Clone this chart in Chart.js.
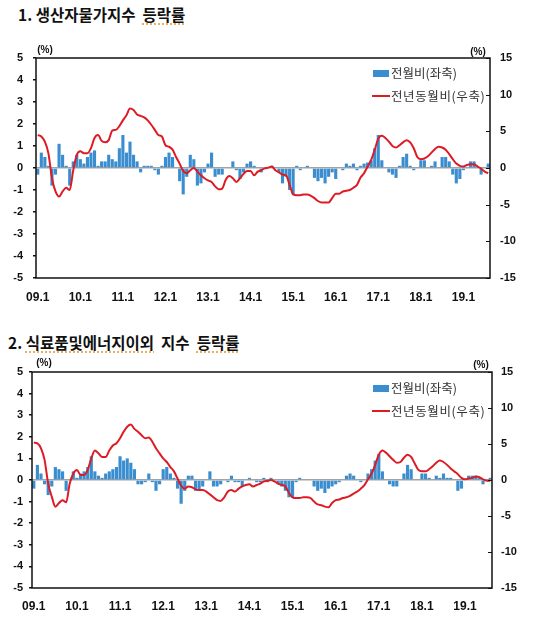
<!DOCTYPE html>
<html>
<head>
<meta charset="utf-8">
<script src="https://cdn.jsdelivr.net/npm/chart.js@4/dist/chart.umd.min.js"></script>
<style>
  html, body { margin: 0; padding: 0; background: #fff; }
  body { width: 535px; height: 618px; position: relative; overflow: hidden; }
  canvas { position: absolute; left: 0; }
  .title { position: absolute; font-family: "Noto Sans CJK KR", sans-serif; font-weight: 700;
           font-size: 15.5px; line-height: 18px; color: #111; white-space: pre; }
  .squig { text-decoration: underline dotted #e09a30; text-underline-offset: 3px; }
  .unit { position: absolute; font-family: "Liberation Sans", Arial, sans-serif; font-weight: 700;
          font-size: 10px; line-height: 12px; color: #111; transform: translate(-50%, -50%); }
  .leg { position: absolute; font-family: "Noto Sans CJK KR", sans-serif; font-size: 12.5px;
         line-height: 16px; color: #333; white-space: nowrap; }
  .sw { position: absolute; }
</style>
</head>
<body>
<div class="title" style="left:18px; top:5px;">1. 생산자물가지수  <span class="squig">등락률</span></div>
<div class="title" style="left:8px; top:333px;">2. <span class="squig">식료품및에너지이외</span>  지수  <span class="squig">등락률</span></div>

<canvas id="ppiChart" width="535" height="280" style="top:30px;"></canvas>
<canvas id="coreChart" width="535" height="278" style="top:340px;"></canvas>

<div class="unit" style="left:45px; top:50px;">(%)</div>
<div class="unit" style="left:478px; top:52px;">(%)</div>
<div class="unit" style="left:44px; top:363px;">(%)</div>
<div class="unit" style="left:481px; top:365px;">(%)</div>

<div id="leg1"></div>
<div id="leg2"></div>

<script>
// months 2009.1 - 2019.8
const years = ["09", "10", "11", "12", "13", "14", "15", "16", "17", "18", "19"];
const lastMonth = 8;
const tickLabels = ["09.1", "10.1", "11.1", "12.1", "13.1", "14.1", "15.1", "16.1", "17.1", "18.1", "19.1"];

const months = [];
years.forEach((y, yi) => {
    const n = yi === years.length - 1 ? lastMonth : 12;
    for (let m = 1; m <= n; m++) months.push(y + "." + m);
});

// 1. 생산자물가지수
const ppiMoM = [
    -0.3, 0.7, 0.5, 0.1, -0.8, -0.3, 1.1, 0.6, 0.1, -0.8, 0.3, 0.6,
    0.4, 0.2, 0.5, 0.7, 0.8, 0.1, 0.3, 0.3, 0.6, 0.4, 0.3, 0.9,
    1.5, 0.7, 1.2, 0.6, 0.3, -0.2, 0.1, 0.1, 0.1, -0.1, -0.3, 0.1,
    0.5, 0.7, 0.5, 0.0, -0.6, -1.2, -0.4, 0.6, 0.4, -0.8, -0.7, -0.2,
    0.2, 0.7, -0.4, -0.3, -0.3, 0.0, 0.0, 0.3, -0.1, -0.5, -0.2, 0.2,
    0.3, 0.1, 0.0, -0.2, 0.0, 0.0, 0.1, 0.0, -0.2, -0.7, -0.4, -1.0,
    -1.2, 0.1, -0.1, 0.0, 0.1, 0.0, -0.45, -0.6, -0.45, -0.7, -0.4, -0.2,
    -0.5, 0.0, -0.1, 0.2, 0.1, 0.2, -0.1, 0.1, 0.2, 0.25, 0.35, 0.9,
    1.5, 0.35, 0.0, -0.2, -0.3, -0.45, 0.1, 0.5, 0.65, 0.1, -0.1, 0.0,
    0.35, 0.35, 0.0, 0.1, 0.3, 0.0, 0.5, 0.5, 0.3, -0.3, -0.7, -0.5,
    -0.1, 0.0, 0.3, 0.3, 0.0, -0.3, 0.0, 0.2
];
const ppiYoY = [
    4.5, 4.3, 3.6, 2.0, -1.4, -3.2, -3.9, -3.2, -2.7, -3.0, -0.3, 1.8,
    2.3, 2.0, 2.0, 2.7, 4.1, 4.5, 3.7, 3.5, 3.8, 5.1, 5.2, 5.7,
    6.5, 7.2, 8.1, 7.9, 7.3, 7.1, 6.9, 6.5, 5.9, 5.2, 4.5, 4.3,
    3.1, 2.9, 2.5, 1.5, 0.6, -0.4, -0.7, -0.3, 0.0, -0.5, -1.0, -1.4,
    -1.7, -1.9, -2.5, -2.9, -2.8, -1.6, -1.1, -1.4, -1.9, -1.4, -0.8, -0.4,
    -0.4, -1.0, -0.5, -0.3, -0.05, 0.05, 0.2, -0.3, -0.6, -0.9, -1.0, -2.3,
    -3.6, -3.7, -3.7, -3.6, -3.6, -3.8, -4.1, -4.5, -4.7, -4.7, -4.7, -4.1,
    -3.5, -3.5, -3.2, -3.1, -3.0, -2.7, -2.3, -1.3, -0.7, 0.2, 1.1, 2.5,
    4.0, 4.4, 4.1, 3.6, 3.0, 2.8, 3.1, 3.5, 3.8, 3.5, 2.7, 1.5,
    1.2, 1.3, 1.6, 2.1, 2.6, 2.9, 2.8, 2.5, 1.9, 1.2, 0.6, 0.3,
    0.2, 0.4, 0.5, 0.5, 0.2, -0.1, -0.5, -0.7
];

// 2. 식료품및에너지이외 지수
const coreMoM = [
    -0.4, 0.7, 0.3, -0.2, -0.7, -0.3, 0.6, 0.5, 0.4, -0.5, 0.0, 0.4,
    0.1, 0.3, 0.4, 0.6, 1.1, 0.4, 0.2, 0.1, 0.3, 0.4, 0.5, 0.6,
    1.1, 0.9, 1.0, 0.8, 0.5, -0.2, -0.2, -0.1, 0.3, -0.1, -0.5, -0.2,
    0.5, 0.6, 0.3, 0.1, -0.4, -1.1, -0.5, 0.2, 0.2, -0.5, -0.5, -0.3,
    0.0, 0.4, -0.3, -0.3, -0.2, 0.0, -0.1, 0.2, -0.1, -0.1, -0.3, 0.0,
    0.1, 0.0, -0.1, -0.1, 0.1, -0.1, 0.1, 0.0, -0.2, -0.3, -0.5, -0.8,
    -0.8, -0.1, 0.1, 0.0, 0.0, 0.0, -0.3, -0.5, -0.4, -0.6, -0.4, -0.3,
    -0.2, -0.1, 0.0, 0.2, 0.3, 0.2, 0.0, -0.1, 0.0, 0.3, 0.5, 0.9,
    1.2, 0.4, 0.0, -0.2, -0.3, -0.3, 0.0, 0.3, 0.7, 0.5, 0.0, 0.0,
    0.3, 0.3, 0.1, 0.0, 0.2, 0.1, 0.3, 0.1, 0.1, 0.0, -0.5, -0.4,
    0.0, 0.2, 0.2, 0.2, 0.1, -0.2, 0.0, 0.1
];
const coreYoY = [
    5.2, 5.1, 4.4, 2.8, -0.5, -2.3, -3.7, -3.2, -2.8, -3.1, -0.5, 0.9,
    1.4, 0.7, 0.7, 1.4, 3.0, 4.1, 3.7, 3.2, 3.2, 4.1, 4.8, 5.1,
    5.8, 6.7, 7.4, 7.7, 7.1, 6.7, 6.2, 5.8, 5.9, 5.3, 4.4, 3.7,
    3.0, 2.5, 1.8, 1.2, 0.2, -0.8, -1.2, -0.9, -1.0, -1.3, -1.4, -1.4,
    -1.6, -2.0, -2.4, -2.8, -2.9, -2.4, -1.6, -1.4, -1.6, -1.2, -0.9, -0.7,
    -0.6, -0.9, -0.7, -0.5, -0.2, -0.1, 0.0, -0.2, -0.5, -0.7, -0.9, -1.8,
    -2.4, -2.5, -2.5, -2.4, -2.4, -2.5, -3.0, -3.4, -3.5, -3.7, -3.8, -3.2,
    -2.8, -2.7, -2.5, -2.4, -2.2, -1.9, -1.6, -1.2, -0.7, 0.1, 0.9, 2.1,
    3.5, 4.1, 3.8, 3.3, 2.8, 2.4, 2.5, 3.1, 3.5, 3.2, 2.3, 1.4,
    1.2, 1.2, 1.5, 1.9, 2.4, 2.7, 2.5, 2.1, 1.6, 1.2, 0.8, 0.3,
    0.1, 0.2, 0.3, 0.5, 0.4, 0.1, -0.1, -0.1
];

const legendNames = ["전월비(좌축)", "전년동월비(우축)"];
const barColor = "#3a8ed0";
const lineColor = "#dd1b24";
const tickFont = { family: "'Liberation Sans', Arial, sans-serif", size: 11, weight: "bold" };
const xTickFont = { family: "'Liberation Sans', Arial, sans-serif", size: 12, weight: "bold" };

// frame round the plot + inward ticks on the right axis
const framePlugin = {
    id: "frame",
    afterDraw(chart) {
        const { ctx, chartArea: a } = chart;
        const y1 = chart.scales.y1;
        ctx.save();
        ctx.strokeStyle = "#111";
        ctx.lineWidth = 1;
        y1.ticks.forEach(t => {
            const y = Math.round(y1.getPixelForValue(t.value)) + 0.5;
            ctx.beginPath();
            ctx.moveTo(a.right - 4, y);
            ctx.lineTo(a.right, y);
            ctx.stroke();
        });
        ctx.lineWidth = 1.5;
        ctx.strokeRect(a.left, a.top, a.right - a.left, a.bottom - a.top);
        ctx.restore();
    }
};

function makeChart(id, mom, yoy, g) {
    return new Chart(document.getElementById(id), {
        type: "bar",
        data: {
            labels: months,
            datasets: [
                {
                    type: "line", label: legendNames[1], data: yoy, yAxisID: "y1", order: 0,
                    borderColor: lineColor, borderWidth: 2, pointRadius: 0, tension: 0.4,
                    cubicInterpolationMode: "monotone", fill: false
                },
                {
                    type: "bar", label: legendNames[0], data: mom, yAxisID: "y", order: 1,
                    backgroundColor: barColor, borderWidth: 0,
                    categoryPercentage: 1.0, barPercentage: 0.88
                }
            ]
        },
        options: {
            responsive: false,
            animation: false,
            layout: { padding: { top: g.top, left: 0, right: 0, bottom: 0 } },
            plugins: { legend: { display: false }, tooltip: { enabled: false } },
            scales: {
                x: {
                    offset: true,
                    grid: { display: false },
                    border: { display: false },
                    ticks: {
                        autoSkip: false, maxRotation: 0, minRotation: 0,
                        padding: g.xPad, color: "#111", font: xTickFont,
                        callback: (v, i) => i % 12 === 0 ? tickLabels[i / 12] : ""
                    },
                    afterFit: s => { s.height = g.xH; }
                },
                y: {
                    position: "left",
                    min: -5, max: 5,
                    border: { display: false },
                    grid: {
                        color: c => c.tick && c.tick.value === 0 ? "#a3a3a3" : "rgba(0,0,0,0)",
                        lineWidth: 1.5,
                        tickColor: "#111", tickLength: 3
                    },
                    ticks: { stepSize: 1, padding: g.lPad, color: "#111", font: tickFont },
                    afterFit: s => { s.width = g.lW; }
                },
                y1: {
                    position: "right",
                    min: -15, max: 15,
                    border: { display: false },
                    grid: { drawOnChartArea: false, drawTicks: false },
                    ticks: { stepSize: 5, padding: g.rPad, color: "#111", font: tickFont },
                    afterFit: s => { s.width = g.rW; }
                }
            }
        },
        plugins: [framePlugin]
    });
}

makeChart("ppiChart", ppiMoM, ppiYoY, { top: 28, xH: 32, xPad: 4, lW: 36, lPad: 10, rW: 45, rPad: 10 });
makeChart("coreChart", coreMoM, coreYoY, { top: 32, xH: 30, xPad: 3, lW: 32, lPad: 6, rW: 43, rPad: 9 });

function makeLegend(elId, y0) {
    const el = document.getElementById(elId);
    el.innerHTML =
        `<div class="sw" style="left:373px; top:${y0 - 3.5}px; width:16px; height:7px; background:${barColor};"></div>` +
        `<div class="leg" style="left:391px; top:${y0 - 8}px;">${legendNames[0]}</div>` +
        `<div class="sw" style="left:372px; top:${y0 + 23 - 1}px; width:18px; height:2px; background:${lineColor};"></div>` +
        `<div class="leg" style="left:391px; top:${y0 + 23 - 8}px; letter-spacing:0.6px;">${legendNames[1]}</div>`;
}
makeLegend("leg1", 73);
makeLegend("leg2", 388);
</script>
</body>
</html>
